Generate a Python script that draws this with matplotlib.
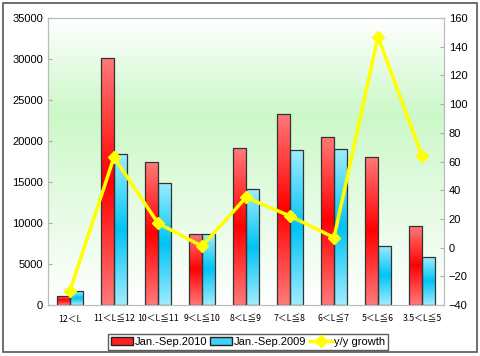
import numpy as np
import matplotlib
matplotlib.use("Agg")
import matplotlib.pyplot as plt
from matplotlib.colors import LinearSegmentedColormap
from matplotlib.patches import Rectangle, Patch

# Data
categories = ["12＜L", "11＜L≦12", "10＜L≦11", "9＜L≦10", "8＜L≦9",
              "7＜L≦8", "6＜L≦7", "5＜L≦6", "3.5＜L≦5"]
sales_2010 = [1100, 30100, 17400, 8700, 19100, 23300, 20500, 18100, 9600]
sales_2009 = [1700, 18400, 14900, 8700, 14100, 18900, 19000, 7200, 5800]
growth = [-30, 63, 17, 1, 35, 22, 7, 147, 64]

plt.rcParams['font.family'] = ['Liberation Sans', 'DejaVu Sans']

fig = plt.figure(figsize=(4.8, 3.56), dpi=100)
ax = fig.add_axes([0.1, 0.1433, 0.825, 0.806])
ax2 = ax.twinx()

# outer frame of the chart
fig.patches.append(Rectangle((0.006, 0.01), 0.988, 0.982, transform=fig.transFigure,
                             fill=False, edgecolor='#555555', linewidth=1.2))

# green gradient background
bg = LinearSegmentedColormap.from_list('bg', ['#ffffff', '#ccf8c8', '#e6fbe4', '#ffffff'])
grad = np.linspace(0, 1, 256).reshape(-1, 1)
ax.imshow(grad, cmap=bg, aspect='auto', extent=[0, 1, 0, 1],
          transform=ax.transAxes, zorder=0)

red_cm = LinearSegmentedColormap.from_list('r', ['#ff7a7a', '#ff0000', '#ff7a7a'])
blue_cm = LinearSegmentedColormap.from_list('b', ['#a0ecff', '#00c4f4', '#a0ecff'])

x = np.arange(len(categories))
w = 0.3
bars1 = ax.bar(x - w / 2, sales_2010, w, facecolor='none', edgecolor='#333333',
               linewidth=0.9, zorder=3, label='Jan.-Sep.2010')
bars2 = ax.bar(x + w / 2, sales_2009, w, facecolor='none', edgecolor='#333333',
               linewidth=0.9, zorder=3, label='Jan.-Sep.2009')

ax.set_xlim(-0.5, len(categories) - 0.5)
ax.set_ylim(0, 35000)

for bars, cm in [(bars1, red_cm), (bars2, blue_cm)]:
    for b in bars:
        x0, y0 = b.get_x(), b.get_y()
        im = ax.imshow(grad, cmap=cm, aspect='auto',
                       extent=[x0, x0 + b.get_width(), y0, y0 + b.get_height()],
                       zorder=2)
        im.set_clip_path(b)

ax2.plot(x, growth, color='#ffff00', linewidth=2.5, marker='D', markersize=6,
         zorder=5, label='y/y growth')
ax2.set_ylim(-40, 160)
ax2.set_yticks(range(-40, 161, 20))

ax.set_yticks(range(0, 35001, 5000))
ax.set_xticks(x)
ax.set_xticklabels(categories, family=['Noto Sans CJK SC', 'DejaVu Sans'], fontsize=6.3)
ax.tick_params(axis='x', length=0, pad=7)
ax.tick_params(axis='y', labelsize=8, direction='in', length=3, color='#aaaaaa')
ax2.tick_params(axis='y', labelsize=8, direction='in', length=3, color='#aaaaaa')

for a in (ax, ax2):
    for s in a.spines.values():
        s.set_color('#bbbbbb')
        s.set_linewidth(0.8)

ax.set_zorder(1)
ax2.set_zorder(2)
ax2.patch.set_visible(False)

h1, l1 = ax.get_legend_handles_labels()
h2, l2 = ax2.get_legend_handles_labels()
handles = [Patch(facecolor='#ff2020', edgecolor='#222222'),
           Patch(facecolor='#40d0f8', edgecolor='#222222'), h2[0]]
fig.legend(handles, l1 + l2, loc='center', bbox_to_anchor=(0.516, 0.04), ncol=3,
           fontsize=8, frameon=True, fancybox=False, edgecolor='#333333',
           handlelength=2.0, handletextpad=0.15, columnspacing=0.3,
           borderpad=0.25, borderaxespad=0)

fig.savefig('out.png', dpi=100)
